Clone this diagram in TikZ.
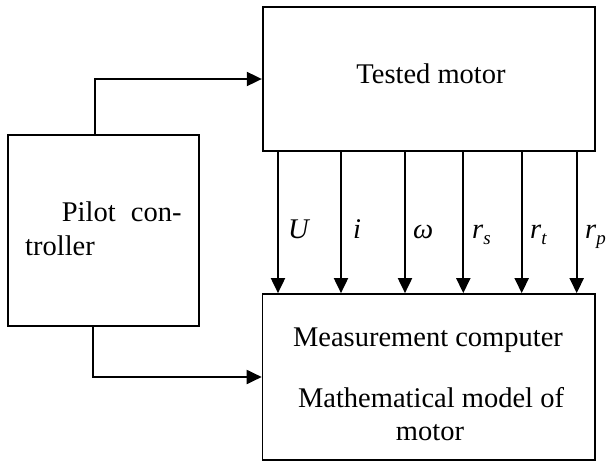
\documentclass[tikz,border=0pt]{standalone}
\usepackage{fontspec}
\setmainfont{Liberation Serif}
\usetikzlibrary{arrows.meta}
\begin{document}
\begin{tikzpicture}[x=1pt,y=-1pt,
  blk/.style={draw,line width=1.7pt,rectangle,inner sep=0pt},
  arr/.style={line width=1.9pt,-{Triangle[length=15pt,width=14pt]}},
  txt/.style={inner sep=0pt,font=\fontsize{28.5}{33}\selectfont},
  lbl/.style={inner sep=0pt,anchor=base west,font=\fontsize{28.5}{33}\selectfont\itshape}]
\useasboundingbox (0,0) rectangle (606,461);
\node[blk,minimum width=332.6pt,minimum height=143.4pt] (motor) at (429,79) {};
\node[blk,minimum width=190.7pt,minimum height=190.7pt] (pilot) at (103.35,230.35) {};
\node[blk,minimum width=332.5pt,minimum height=166pt] (comp) at (428.8,377) {};
% texts
\node[txt,anchor=base] (tm) at (431,83.3) {Tested motor};
\node[txt,anchor=base east] (pc1) at (181.7,221.7) {Pilot\hspace{8pt} con-};
\node[txt,anchor=base west] (pc2) at (25,255) {troller};
\node[txt,anchor=base] (mc) at (428,346.7) {Measurement computer};
\node[txt,anchor=base] (mm1) at (431,407.3) {Mathematical model of};
\node[txt,anchor=base] (mm2) at (430,440) {motor};
% signal coordinates
\coordinate (c1) at (278,0);
\coordinate (c2) at (341,0);
\coordinate (c3) at (405,0);
\coordinate (c4) at (463.3,0);
\coordinate (c5) at (521.7,0);
\coordinate (c6) at (576.7,0);
\foreach \c in {c1,c2,c3,c4,c5,c6}
  \draw[arr] (motor.south -| \c) -- (comp.north -| \c);
\node[lbl] (lU) at (288,238) {U};
\node[lbl] (li) at (353,238) {i};
\node[lbl] (lw) at (413,238) {ω};
\node[lbl] (lrs) at (472,238) {r\raisebox{-0.22em}{\fontsize{19}{20}\selectfont s}};
\node[lbl] (lrt) at (530,238) {r\raisebox{-0.22em}{\fontsize{19}{20}\selectfont t}};
\node[lbl] (lrp) at (585,238) {r\raisebox{-0.22em}{\fontsize{19}{20}\selectfont p}};
% control lines
\coordinate (tx) at (94.7,0);
\coordinate (bx) at (92.8,0);
\draw[arr] (pilot.north -| tx) |- (motor.west);
\draw[arr] (pilot.south -| bx) |- (comp.west);
\end{tikzpicture}
\end{document}
